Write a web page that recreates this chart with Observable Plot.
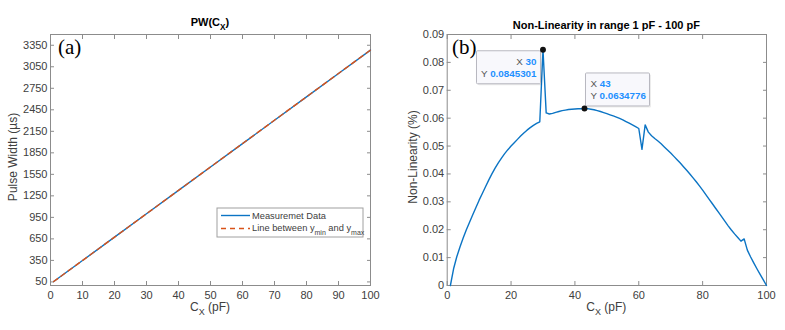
<!DOCTYPE html>
<html><head><meta charset="utf-8">
<script src="https://cdn.jsdelivr.net/npm/d3@7"></script>
<script src="https://cdn.jsdelivr.net/npm/@observablehq/plot@0.6"></script>
<style>
body{margin:0;background:#fff;width:785px;height:330px;overflow:hidden;position:relative;font-family:"Liberation Sans",Arial,sans-serif}
#a{position:absolute;left:0;top:0}
#b{position:absolute;left:395px;top:0}
</style></head><body><div id="a"></div><div id="b"></div>
<script>
// ---- panel (a) data ----
const capacitance = [1, 10, 20, 30, 40, 50, 60, 70, 80, 90, 100];
const pulseWidth = [55, 348, 674, 1000, 1326, 1652, 1978, 2304, 2630, 2956, 3283];
const lineC = [1, 100];
const linePW = [55, 3283];
const pwTicks = [50, 350, 650, 950, 1250, 1550, 1850, 2150, 2450, 2750, 3050, 3350];
const xTicksA = [0, 10, 20, 30, 40, 50, 60, 70, 80, 90, 100];

// ---- panel (b) data ----
const nlC = [1,2,3,4,5,6,7,8,9,10,11,12,13,14,15,16,17,18,19,20,21,22,23,24,25,26,27,28,29,30,31,32,33,34,35,36,37,38,39,40,41,42,43,44,45,46,47,48,49,50,51,52,53,54,55,56,57,58,59,60,61,62,63,64,65,66,67,68,69,70,71,72,73,74,75,76,77,78,79,80,81,82,83,84,85,86,87,88,89,90,91,92,93,94,95,96,97,98,99,100];
const nonLinearity = [0,0.0060,0.0103,0.0138,0.0170,0.0200,0.0227,0.0254,0.0280,0.0306,
 0.0330,0.0354,0.0378,0.0400,0.0421,0.0440,0.0457,0.0473,0.0487,0.0500,
 0.0512,0.0524,0.0536,0.0547,0.0557,0.0566,0.0574,0.0581,0.0587,0.0845301,
 0.0619,0.0615,0.0617,0.0621,0.0624,0.0627,0.0629,0.0631,0.0632,0.0633,
 0.0634,0.0634,0.0634776,0.0634,0.0632,0.0630,0.0627,0.0624,0.0620,0.0616,
 0.0612,0.0608,0.0604,0.0599,0.0594,0.0588,0.0582,0.0576,0.0570,0.0563,
 0.0488,0.0576,0.0550,0.0537,0.0527,0.0518,0.0508,0.0497,0.0486,0.0475,
 0.0463,0.0451,0.0439,0.0426,0.0413,0.0400,0.0386,0.0372,0.0357,0.0342,
 0.0326,0.0310,0.0294,0.0278,0.0262,0.0246,0.0230,0.0214,0.0199,0.0185,
 0.0172,0.0159,0.0167,0.0127,0.0103,0.0081,0.0060,0.0040,0.0020,0];
const nlTicksY = [0, 0.01, 0.02, 0.03, 0.04, 0.05, 0.06, 0.07, 0.08, 0.09];
const nlTicksX = [0, 20, 40, 60, 80, 100];
const tipC = [30, 43];
const tipV = [0.0845301, 0.0634776];

const BLUE = "#0b74c4", ORANGE = "#D95319", AX = "#8c8c8c", TXT = "#404040";
const FONT = "Liberation Sans, Arial, sans-serif";

function boxAxes(xt, yt, yfmt) {
  return [
    Plot.frame({stroke: AX, strokeWidth: 1}),
    Plot.axisX(xt, {anchor: "bottom", tickSize: -4, tickPadding: 10, stroke: AX, label: null}),
    Plot.axisX(xt, {anchor: "top", tickSize: -4, tickFormat: () => "", stroke: AX, label: null}),
    Plot.axisY(yt, {anchor: "left", tickSize: -4, tickPadding: 7, stroke: AX, label: null, tickFormat: yfmt}),
    Plot.axisY(yt, {anchor: "right", tickSize: -4, tickFormat: () => "", stroke: AX, label: null})
  ];
}

const pwData = capacitance.map((c, i) => ({c, pw: pulseWidth[i]}));
const lnData = lineC.map((c, i) => ({c, pw: linePW[i]}));

const plotA = Plot.plot({
  width: 395, height: 330,
  marginLeft: 50, marginRight: 25, marginTop: 34, marginBottom: 45,
  x: {domain: [0, 100]},
  y: {domain: [0, 3500]},
  style: {fontFamily: FONT, fontSize: "11px", color: TXT, background: "transparent"},
  marks: [
    ...boxAxes(xTicksA, pwTicks, d => String(d)),
    Plot.line(pwData, {x: "c", y: "pw", stroke: BLUE, strokeWidth: 1.4}),
    Plot.line(lnData, {x: "c", y: "pw", stroke: ORANGE, strokeWidth: 1.4, strokeDasharray: "5,4"})
  ]
});
document.getElementById("a").appendChild(plotA);

const nlData = nlC.map((c, i) => ({c, v: nonLinearity[i]}));
const tipData = tipC.map((c, i) => ({c, v: tipV[i]}));

const plotB = Plot.plot({
  width: 390, height: 330,
  marginLeft: 51.7, marginRight: 19, marginTop: 34, marginBottom: 45,
  x: {domain: [0, 100]},
  y: {domain: [0, 0.09]},
  style: {fontFamily: FONT, fontSize: "11px", color: TXT, background: "transparent"},
  marks: [
    ...boxAxes(nlTicksX, nlTicksY, d => d === 0 ? "0" : d3.format(".2f")(d)),
    Plot.line(nlData, {x: "c", y: "v", stroke: BLUE, strokeWidth: 1.4}),
    Plot.dot(tipData, {x: "c", y: "v", r: 2.2, fill: "#111", stroke: "#111"})
  ]
});
document.getElementById("b").appendChild(plotB);

// ---- annotations (real text) ----
function subText(g, parts, attrs) {
  const t = g.append("text");
  Object.entries(attrs).forEach(([k, v]) => t.attr(k, v));
  let shifted = false;
  parts.forEach(p => {
    const sp = t.append("tspan").text(p.t);
    if (p.sub && !shifted) { sp.attr("dy", 3.5).attr("font-size", p.size || "0.75em"); shifted = true; }
    else if (!p.sub && shifted) { sp.attr("dy", -3.5); shifted = false; }
  });
  return t;
}

const sa = d3.select(plotA);
const sb = d3.select(plotB);
const xb = plotB.scale("x"), yb = plotB.scale("y");

// titles
subText(sa, [{t: "PW(C"}, {t: "X", sub: true}, {t: ")"}],
  {x: 210, y: 26, "text-anchor": "middle", "font-weight": "bold", "font-size": 11, fill: "#000", "font-family": FONT});
sb.append("text").text("Non-Linearity in range 1 pF - 100 pF")
  .attr("x", (51.7 + 371) / 2).attr("y", 29).attr("text-anchor", "middle")
  .attr("font-weight", "bold").attr("font-size", 11).attr("fill", "#000").attr("font-family", FONT);

// x labels
subText(sa, [{t: "C"}, {t: "X", sub: true}, {t: " (pF)"}],
  {x: 210, y: 311, "text-anchor": "middle", "font-size": 12, fill: TXT, "font-family": FONT});
subText(sb, [{t: "C"}, {t: "X", sub: true}, {t: " (pF)"}],
  {x: (51.7 + 371) / 2, y: 311, "text-anchor": "middle", "font-size": 12, fill: TXT, "font-family": FONT});

// y labels
sa.append("text").text("Pulse Width (µs)")
  .attr("transform", "translate(17,157) rotate(-90)").attr("text-anchor", "middle")
  .attr("font-size", 12).attr("fill", TXT).attr("font-family", FONT);
sb.append("text").text("Non-Linearity (%)")
  .attr("transform", "translate(22,157) rotate(-90)").attr("text-anchor", "middle")
  .attr("font-size", 12).attr("fill", TXT).attr("font-family", FONT);

// panel letters
sa.append("text").text("(a)").attr("x", 58).attr("y", 54).attr("text-anchor", "start")
  .attr("font-family", "Liberation Serif, Times New Roman, serif").attr("font-size", 21).attr("fill", "#000");
sb.append("text").text("(b)").attr("x", 57).attr("y", 54).attr("text-anchor", "start")
  .attr("font-family", "Liberation Serif, Times New Roman, serif").attr("font-size", 21).attr("fill", "#000");

// legend
const lg = sa.append("g").attr("text-anchor", "start");
lg.append("rect").attr("x", 217).attr("y", 208).attr("width", 146).attr("height", 29)
  .attr("fill", "#fff").attr("stroke", "#a0a0a0").attr("stroke-width", 1);
lg.append("line").attr("x1", 221).attr("x2", 250).attr("y1", 215.5).attr("y2", 215.5)
  .attr("stroke", BLUE).attr("stroke-width", 1.4);
lg.append("line").attr("x1", 221).attr("x2", 250).attr("y1", 228.5).attr("y2", 228.5)
  .attr("stroke", ORANGE).attr("stroke-width", 1.4).attr("stroke-dasharray", "5,4");
lg.append("text").text("Measuremet Data").attr("x", 252).attr("y", 219).attr("text-anchor", "start")
  .attr("font-size", 9.3).attr("fill", TXT).attr("font-family", FONT);
subText(lg, [{t: "Line between y"}, {t: "min", sub: true}, {t: " and y"}, {t: "max", sub: true}],
  {x: 252, y: 231, "text-anchor": "start", "font-size": 9.3, fill: TXT, "font-family": FONT});

// data tips
function tip(px, py, anchor, c, v) {
  const w = 64, h = 33;
  let bx, by;
  if (anchor === "left") { bx = px - 2 - w; by = py + 1.5; }
  else { bx = px + 1.5; by = py - 2 - h; }
  const g = sb.append("g").attr("font-family", FONT).attr("font-size", 9.8);
  g.append("rect").attr("x", bx + 1.5).attr("y", by + 1.5).attr("width", w).attr("height", h)
    .attr("fill", "#000").attr("opacity", 0.08).attr("rx", 1);
  g.append("rect").attr("x", bx).attr("y", by).attr("width", w).attr("height", h)
    .attr("fill", "#f8f8fc").attr("stroke", "#b8b8c0").attr("stroke-width", 1).attr("rx", 1);
  const tx = anchor === "left" ? bx + w - 4 : bx + 5;
  const ta = anchor === "left" ? "end" : "start";
  const l1 = g.append("text").attr("x", tx).attr("y", by + 14).attr("text-anchor", ta);
  l1.append("tspan").text("X ").attr("fill", "#555");
  l1.append("tspan").text(String(c)).attr("fill", "#1E90FF").attr("font-weight", "bold");
  const l2 = g.append("text").attr("x", tx).attr("y", by + 26).attr("text-anchor", ta);
  l2.append("tspan").text("Y ").attr("fill", "#555");
  l2.append("tspan").text(String(v)).attr("fill", "#1E90FF").attr("font-weight", "bold");
}
tip(xb.apply(tipC[0]), yb.apply(tipV[0]), "left", tipC[0], tipV[0]);
tip(xb.apply(tipC[1]), yb.apply(tipV[1]), "right", tipC[1], tipV[1]);
sb.selectAll("g[aria-label='dot']").raise();
</script>
</body></html>
